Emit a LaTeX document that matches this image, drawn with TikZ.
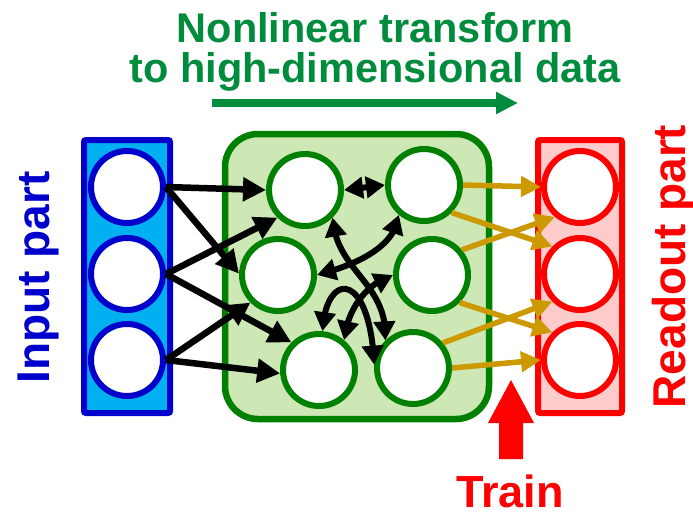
\documentclass[tikz,border=0pt]{standalone}
\usepackage{fontspec}
\setmainfont{Liberation Sans}
\usetikzlibrary{arrows.meta,bending}
\definecolor{inblue}{RGB}{0,0,204}
\definecolor{incyan}{RGB}{0,176,240}
\definecolor{resgreen}{RGB}{0,128,0}
\definecolor{resfill}{RGB}{205,232,181}
\definecolor{titlegreen}{RGB}{0,140,60}
\definecolor{outred}{RGB}{255,0,0}
\definecolor{outfill}{RGB}{255,204,204}
\definecolor{gold}{RGB}{204,153,0}
\begin{document}
\begin{tikzpicture}[x=1pt,y=-1pt,
  neuron/.style={circle, line width=6pt, fill=white, minimum size=72pt, inner sep=0pt},
  innode/.style={neuron, draw=inblue},
  resnode/.style={neuron, draw=resgreen},
  outnode/.style={neuron, draw=outred},
  blk/.style={line width=6.5pt, -{Triangle[length=23pt,width=23pt]}},
  dbl/.style={line width=6pt, {Triangle[length=19pt,width=21pt,flex]}-{Triangle[length=19pt,width=21pt,flex]}},
  gld/.style={draw=gold, line width=5.5pt, -{Triangle[length=20pt,width=20pt]}},
  titletext/.style={anchor=base, inner sep=0pt, text=titlegreen, font=\fontsize{41.5pt}{41.5pt}\selectfont\bfseries},
  sidetext/.style={anchor=base, rotate=90, inner sep=0pt, font=\fontsize{46pt}{46pt}\selectfont\bfseries}
]
\useasboundingbox (0,0) rectangle (693,512);

% titles
\node[titletext] (t1) at (375,42) {Nonlinear transform};
\node[titletext] (t2) at (375,82) {to high-dimensional data};
\coordinate (ga) at (212,103);
\coordinate (gb) at (518,103);
\draw[titlegreen, line width=7.7pt, -{Triangle[length=22pt,width=21pt]}] (ga) -- (gb);

% side labels
\node[sidetext, text=inblue] (inlabel) at (49,277.5) {Input part};
\node[sidetext, text=outred] (outlabel) at (685,266.5) {Readout part};

% boxes
\draw[inblue, fill=incyan, line width=6pt, rounded corners=2pt] (84,140) rectangle (170,413);
\draw[resgreen, fill=resfill, line width=6.5pt, rounded corners=33pt] (225,134) rectangle (489,419);
\draw[outred, fill=outfill, line width=6pt, rounded corners=2pt] (538,140) rectangle (622,413);

% neurons
\node[innode] (in1) at (127,187) {};
\node[innode] (in2) at (127,274) {};
\node[innode] (in3) at (127,360) {};
\node[resnode] (TL) at (305,190) {};
\node[resnode] (TR) at (424,185) {};
\node[resnode] (ML) at (278,275) {};
\node[resnode] (MR) at (432,275) {};
\node[resnode] (BL) at (319,370) {};
\node[resnode] (BR) at (413,368) {};
\node[outnode] (out1) at (580,187) {};
\node[outnode] (out2) at (580,274) {};
\node[outnode] (out3) at (580,360) {};

% input connections
\draw[blk] (in1.east) -- (TL.180);
\draw[blk] (in1.east) -- (ML.178);
\draw[blk] (in2.east) -- (TL.225);
\draw[blk] (in2.east) -- (BL.135);
\draw[blk] (in3.east) -- (ML.225);
\draw[blk] (in3.east) -- (BL.185);

% reservoir connections
\draw[dbl] (TL.east) -- (TR.west);
\draw[dbl] (ML.east) .. controls (355,265) and (395,248) .. (TR.230);
\draw[dbl] (TL.-45) .. controls (336,272) and (388,282) .. (BR.135);
\draw[dbl] (MR.west) .. controls (370,282) and (348,305) .. (BL.50);
\draw[dbl] (BL.85) .. controls (326,270) and (370,270) .. (BR.175);

% readout connections
\draw[gld] (TR.east) -- (out1.west);
\draw[gld] (TR.-45) -- (out2.135);
\draw[gld] (MR.40) -- (out1.230);
\draw[gld] (MR.-45) -- (out3.135);
\draw[gld] (BR.40) -- (out2.225);
\draw[gld] (BR.east) -- (out3.west);

% train
\fill[outred] (499,459) -- (499,423) -- (488,423) -- (511,380) -- (534,423) -- (523,423) -- (523,459) -- cycle;
\node[anchor=base, inner sep=0pt, text=outred, font=\fontsize{45pt}{45pt}\selectfont\bfseries] (train) at (510,507) {Train};
\end{tikzpicture}
\end{document}
